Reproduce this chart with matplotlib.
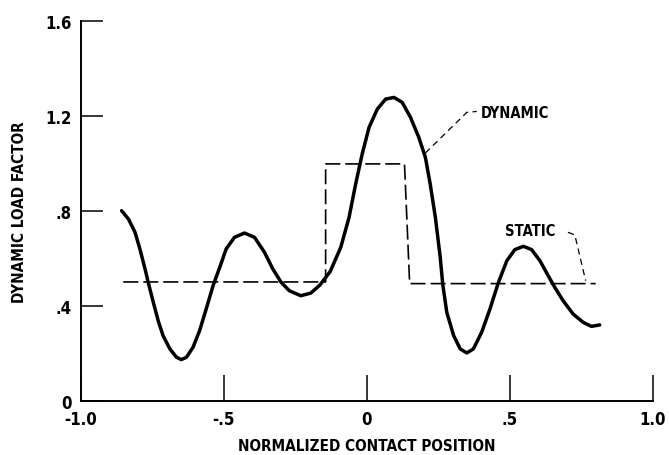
import matplotlib
matplotlib.use("Agg")
import matplotlib.pyplot as plt

# dynamic load factor
dyn_x = [-0.858, -0.834, -0.811, -0.794, -0.776, -0.765, -0.747, -0.730, -0.713,
         -0.689, -0.666, -0.649, -0.631, -0.608, -0.585, -0.562, -0.538, -0.515,
         -0.492, -0.463, -0.428, -0.393, -0.358, -0.329, -0.300, -0.271, -0.231,
         -0.196, -0.164, -0.128, -0.091, -0.062, -0.039, -0.016, 0.008, 0.037,
         0.066, 0.095, 0.124, 0.153, 0.182, 0.205, 0.222, 0.240, 0.257, 0.266,
         0.280, 0.304, 0.327, 0.350, 0.373, 0.402, 0.431, 0.461, 0.490, 0.518,
         0.548, 0.577, 0.606, 0.635, 0.658, 0.687, 0.722, 0.757, 0.786, 0.815]
dyn_y = [0.800, 0.765, 0.709, 0.639, 0.555, 0.499, 0.414, 0.337, 0.274,
         0.218, 0.183, 0.173, 0.183, 0.225, 0.295, 0.386, 0.484, 0.560,
         0.639, 0.688, 0.706, 0.688, 0.625, 0.555, 0.499, 0.463, 0.442,
         0.453, 0.487, 0.544, 0.646, 0.772, 0.912, 1.039, 1.151, 1.228,
         1.270, 1.277, 1.256, 1.193, 1.109, 1.025, 0.912, 0.772, 0.604, 0.488,
         0.372, 0.274, 0.218, 0.201, 0.218, 0.288, 0.386, 0.499, 0.589, 0.636,
         0.650, 0.636, 0.589, 0.526, 0.477, 0.421, 0.365, 0.330, 0.313, 0.319]

# static load factor (step)
stat_x = [-0.852, -0.144, -0.144, 0.132, 0.150, 0.801]
stat_y = [0.500, 0.500, 0.997, 0.997, 0.493, 0.493]

# leader lines for the labels
dyn_lead_x = [0.205, 0.350, 0.385]
dyn_lead_y = [1.043, 1.214, 1.218]
stat_lead_x = [0.704, 0.728, 0.766]
stat_lead_y = [0.709, 0.698, 0.505]

xticks = [-1.0, -0.5, 0.0, 0.5, 1.0]
xlabels = ["-1.0", "-.5", "0", ".5", "1.0"]
yticks = [0.0, 0.4, 0.8, 1.2, 1.6]
ylabels = ["0", ".4", ".8", "1.2", "1.6"]

plt.rcParams['font.family'] = ['DejaVu Sans']
plt.rcParams['font.stretch'] = 'condensed'
plt.rcParams['font.weight'] = 'bold'

fig = plt.figure(figsize=(6.69, 4.56), dpi=100)
ax = fig.add_axes([0.1211, 0.1191, 0.8543, 0.8333])

ax.plot(dyn_x, dyn_y, color='black', lw=2.5, solid_capstyle='round',
        solid_joinstyle='round')
ax.plot(stat_x, stat_y, color='black', lw=1.2, dashes=(9, 3))
ax.plot(dyn_lead_x, dyn_lead_y, color='black', lw=0.9, dashes=(5, 3.5))
ax.plot(stat_lead_x, stat_lead_y, color='black', lw=0.9, dashes=(5, 3.5))

ax.text(0.400, 1.214, "DYNAMIC", fontsize=10.5, fontweight='bold', va='center', ha='left')
ax.text(0.483, 0.716, "STATIC", fontsize=10.5, fontweight='bold', va='center', ha='left')

ax.set_xlim(-1.0, 1.0)
ax.set_ylim(0, 1.6)
ax.spines['top'].set_visible(False)
ax.spines['right'].set_visible(False)
ax.spines['left'].set_linewidth(1.4)
ax.spines['bottom'].set_linewidth(1.4)

ax.set_xticks(xticks)
ax.set_xticklabels(xlabels, fontsize=12, fontweight='bold')
ax.set_yticks(yticks)
ax.set_yticklabels(ylabels, fontsize=12, fontweight='bold')
ax.tick_params(axis='x', direction='in', length=18.5, width=1.1, pad=7)
ax.tick_params(axis='y', direction='in', length=15.8, width=1.1, pad=7)

ax.set_xlabel("NORMALIZED CONTACT POSITION", fontsize=11, fontweight='bold', labelpad=7)
ax.set_ylabel("DYNAMIC LOAD FACTOR", fontsize=11, fontweight='bold', labelpad=13)

fig.savefig("out.png", dpi=100)
